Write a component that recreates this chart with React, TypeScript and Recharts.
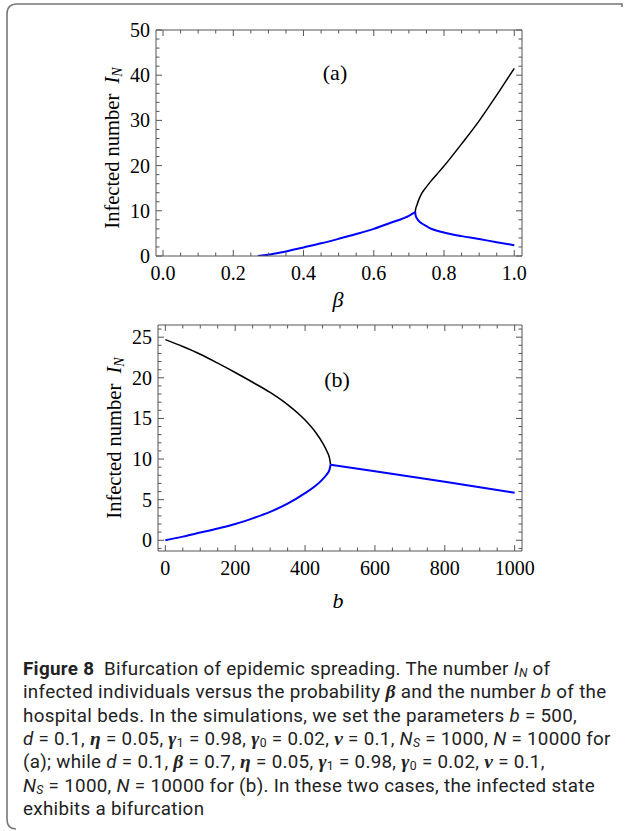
import React from "react";
import { LineChart, Line, XAxis, YAxis, Label } from "recharts";

// panel (a): infected number vs beta
const riseBetaA = [0.27, 0.3, 0.35, 0.4, 0.45, 0.5, 0.55, 0.6, 0.65, 0.7, 0.718];
const riseIA = [0, 0.3, 1.0, 1.9, 2.8, 3.8, 4.85, 6.0, 7.4, 8.9, 9.7];
const upperBetaA = [0.718, 0.719, 0.723, 0.73, 0.737, 0.75, 0.761, 0.78, 0.8, 0.85, 0.9, 0.95, 1.0];
const upperIA = [9.7, 10.3, 11.3, 12.8, 13.9, 15.3, 16.4, 18.1, 19.9, 24.8, 29.9, 35.6, 41.5];
const lowerBetaA = [0.718, 0.719, 0.723, 0.73, 0.737, 0.75, 0.761, 0.78, 0.808, 0.85, 0.9, 0.95, 1.0];
const lowerIA = [9.7, 9.0, 8.3, 7.6, 7.2, 6.6, 6.1, 5.6, 5.05, 4.4, 3.75, 3.05, 2.4];

// panel (b): infected number vs hospital beds b
const upperBedsB = [0, 50, 100, 150, 200, 250, 300, 350, 400, 430, 450, 462, 470, 473];
const upperIB = [24.7, 23.85, 22.9, 21.8, 20.65, 19.45, 18.2, 16.7, 14.8, 13.3, 12.0, 11.0, 10.1, 9.3];
const lowerBedsB = [0, 50, 100, 150, 200, 250, 300, 350, 400, 430, 450, 462, 470, 473];
const lowerIB = [0, 0.45, 0.95, 1.45, 2.0, 2.7, 3.5, 4.5, 5.8, 6.7, 7.5, 8.1, 8.7, 9.3];
const rightBedsB = [473, 600, 800, 1000];
const rightIB = [9.3, 8.5, 7.2, 5.85];

// tick labels
const xMajorA = [0, 0.2, 0.4, 0.6, 0.8, 1.0];
const yMajorA = [0, 10, 20, 30, 40, 50];
const xMajorB = [0, 200, 400, 600, 800, 1000];
const yMajorB = [0, 5, 10, 15, 20, 25];

const pts = (xs: number[], ys: number[]) => xs.map((x, i) => ({ x, y: ys[i] }));

const withMinors = (majors: number[], sub: number, lo: number, hi: number) => {
  const step = (majors[1] - majors[0]) / sub;
  const out: number[] = [];
  for (let k = Math.ceil(lo / step - 1e-9); k * step <= hi + 1e-9; k++) {
    out.push(Math.round(k * step * 1e6) / 1e6);
  }
  return out;
};

const FRAME = "#555";
const SERIF = "'Liberation Serif', 'Times New Roman', serif";

type Side = "bottom" | "left" | "top" | "right";

function frameTick(side: Side, majors: number[], fmt?: (v: number) => string) {
  return (props: any) => {
    const { x, y, payload } = props;
    const v = payload.value;
    const major = majors.some((m) => Math.abs(m - v) < 1e-6);
    const len = major ? 6 : 3.5;
    let x2 = x;
    let y2 = y;
    if (side === "bottom") y2 = y - len;
    if (side === "top") y2 = y + len;
    if (side === "left") x2 = x + len;
    if (side === "right") x2 = x - len;
    let label = null;
    if (major && fmt) {
      if (side === "bottom") {
        label = (
          <text x={x} y={y + 17} textAnchor="middle" dominantBaseline="central" fontFamily={SERIF} fontSize={20} fill="#000">
            {fmt(v)}
          </text>
        );
      } else if (side === "left") {
        label = (
          <text x={x - 6} y={y} textAnchor="end" dominantBaseline="central" fontFamily={SERIF} fontSize={20} fill="#000">
            {fmt(v)}
          </text>
        );
      }
    }
    return (
      <g>
        <line x1={x} y1={y} x2={x2} y2={y2} stroke={FRAME} strokeWidth={1} />
        {label}
      </g>
    );
  };
}

const YLabel = (props: any) => {
  const { viewBox, dy } = props;
  const cx = viewBox.x + 16;
  const cy = viewBox.y + viewBox.height / 2 + (dy || 0);
  return (
    <text
      x={cx}
      y={cy}
      transform={`rotate(-90 ${cx} ${cy})`}
      textAnchor="middle"
      dominantBaseline="central"
      fontFamily={SERIF}
      fontSize={20.5}
      fill="#000"
    >
      Infected number{"\u2002"}
      <tspan fontStyle="italic">I</tspan>
      <tspan fontStyle="italic" fontSize={14} dy={5}>
        N
      </tspan>
    </text>
  );
};

type PanelProps = {
  width: number;
  height: number;
  margin: { top: number; right: number; bottom: number; left: number };
  xDomain: [number, number];
  yDomain: [number, number];
  xTicks: number[];
  yTicks: number[];
  xMajor: number[];
  yMajor: number[];
  xFmt: (v: number) => string;
  yFmt: (v: number) => string;
  blue: { x: number; y: number }[][];
  black: { x: number; y: number }[][];
  labelDy: number;
};

function Panel(p: PanelProps) {
  return (
    <LineChart width={p.width} height={p.height} margin={p.margin}>
      <XAxis
        xAxisId="main"
        dataKey="x"
        type="number"
        domain={p.xDomain}
        allowDataOverflow
        ticks={p.xTicks}
        interval={0}
        tickSize={0}
        tickMargin={0}
        tickLine={false}
        height={40}
        axisLine={{ stroke: FRAME }}
        tick={frameTick("bottom", p.xMajor, p.xFmt)}
      />
      <XAxis
        xAxisId="top"
        orientation="top"
        dataKey="x"
        type="number"
        domain={p.xDomain}
        allowDataOverflow
        ticks={p.xTicks}
        interval={0}
        tickSize={0}
        tickMargin={0}
        tickLine={false}
        height={1}
        axisLine={{ stroke: FRAME }}
        tick={frameTick("top", p.xMajor)}
      />
      <YAxis
        yAxisId="main"
        type="number"
        domain={p.yDomain}
        allowDataOverflow
        ticks={p.yTicks}
        interval={0}
        tickSize={0}
        tickMargin={0}
        tickLine={false}
        width={60}
        axisLine={{ stroke: FRAME }}
        tick={frameTick("left", p.yMajor, p.yFmt)}
      >
        <Label content={(lp: any) => <YLabel {...lp} dy={p.labelDy} />} />
      </YAxis>
      <YAxis
        yAxisId="right"
        orientation="right"
        type="number"
        domain={p.yDomain}
        allowDataOverflow
        ticks={p.yTicks}
        interval={0}
        tickSize={0}
        tickMargin={0}
        tickLine={false}
        width={1}
        axisLine={{ stroke: FRAME }}
        tick={frameTick("right", p.yMajor)}
      />
      {/* invisible copy so the mirror axes have a series */}
      <Line
        xAxisId="top"
        yAxisId="right"
        data={p.blue[0]}
        dataKey="y"
        stroke="none"
        dot={false}
        activeDot={false}
        isAnimationActive={false}
      />
      {p.black.map((d, i) => (
        <Line
          key={"k" + i}
          xAxisId="main"
          yAxisId="main"
          data={d}
          dataKey="y"
          type="monotone"
          stroke="#000"
          strokeWidth={1.5}
          dot={false}
          activeDot={false}
          isAnimationActive={false}
        />
      ))}
      {p.blue.map((d, i) => (
        <Line
          key={"b" + i}
          xAxisId="main"
          yAxisId="main"
          data={d}
          dataKey="y"
          type="monotone"
          stroke="#0000ff"
          strokeWidth={2}
          dot={false}
          activeDot={false}
          isAnimationActive={false}
        />
      ))}
    </LineChart>
  );
}

const capStyle: React.CSSProperties = {
  position: "absolute",
  left: 23,
  height: 22,
  whiteSpace: "nowrap",
  fontFamily: "Roboto, 'Liberation Sans', sans-serif",
  fontSize: 18.8,
  letterSpacing: 0.3,
  color: "#222",
  lineHeight: "22px",
};
const greekB: React.CSSProperties = { fontFamily: SERIF, fontStyle: "italic", fontWeight: "bold", fontSize: 19.5, lineHeight: 0 };

const G = ({ children }: { children: React.ReactNode }) => <span style={greekB}>{children}</span>;
const It = ({ children }: { children: React.ReactNode }) => <i>{children}</i>;
const Sub = ({ children }: { children: React.ReactNode }) => (
  <sub style={{ fontSize: "0.65em", verticalAlign: "-0.15em", lineHeight: 0 }}>{children}</sub>
);

const captionLines: React.ReactNode[] = [
  <>
    <b>Figure 8</b>
    {"\u2002"}Bifurcation of epidemic spreading. The number{" "}
    <It>
      I<Sub>N</Sub>
    </It>{" "}
    of
  </>,
  <>
    infected individuals versus the probability <G>β</G> and the number <It>b</It> of the
  </>,
  <>
    hospital beds. In the simulations, we set the parameters <It>b</It> = 500,
  </>,
  <>
    <It>d</It> = 0.1, <G>η</G> = 0.05, <G>γ</G>
    <Sub>1</Sub> = 0.98, <G>γ</G>
    <Sub>0</Sub> = 0.02, <G>ν</G> = 0.1,{" "}
    <It>
      N<Sub>S</Sub>
    </It>{" "}
    = 1000, <It>N</It> = 10000 for
  </>,
  <>
    (a); while <It>d</It> = 0.1, <G>β</G> = 0.7, <G>η</G> = 0.05, <G>γ</G>
    <Sub>1</Sub> = 0.98, <G>γ</G>
    <Sub>0</Sub> = 0.02, <G>ν</G> = 0.1,
  </>,
  <>
    <It>
      N<Sub>S</Sub>
    </It>{" "}
    = 1000, <It>N</It> = 10000 for (b). In these two cases, the infected state
  </>,
  <>exhibits a bifurcation</>,
];

const overlayText = (left: number, top: number, text: React.ReactNode, size: number, italic = false) => (
  <div
    style={{
      position: "absolute",
      left,
      top,
      transform: "translate(-50%, -50%)",
      fontFamily: SERIF,
      fontSize: size,
      fontStyle: italic ? "italic" : "normal",
      color: "#000",
      whiteSpace: "nowrap",
    }}
  >
    {text}
  </div>
);

export default function App() {
  const fmtA = (v: number) => v.toFixed(1);
  const fmtInt = (v: number) => String(Math.round(v));
  return (
    <div style={{ position: "absolute", left: 0, top: 0, width: 625, height: 831, background: "#fff", overflow: "hidden" }}>
      <svg width={625} height={831} style={{ position: "absolute", left: 0, top: 0 }}>
        <path d="M 16 829 Q 7 829 7 819 L 7 14 Q 7 4 17 4 L 622 4 L 622 7" fill="none" stroke="#777" strokeWidth={1.6} />
      </svg>

      <div style={{ position: "absolute", left: 0, top: 0 }}>
        <Panel
          width={625}
          height={315}
          margin={{ top: 29, right: 102, bottom: 19, left: 96 }}
          xDomain={[-0.02, 1.022]}
          yDomain={[0, 50]}
          xTicks={withMinors(xMajorA, 4, -0.02, 1.022)}
          yTicks={withMinors(yMajorA, 5, 0, 50)}
          xMajor={xMajorA}
          yMajor={yMajorA}
          xFmt={fmtA}
          yFmt={fmtInt}
          blue={[pts(riseBetaA, riseIA), pts(lowerBetaA, lowerIA)]}
          black={[pts(upperBetaA, upperIA)]}
          labelDy={5}
        />
      </div>
      {overlayText(335, 73, "(a)", 22)}
      {overlayText(338, 300, "β", 22, true)}

      <div style={{ position: "absolute", left: 0, top: 310 }}>
        <Panel
          width={625}
          height={305}
          margin={{ top: 14, right: 102, bottom: 24, left: 98 }}
          xDomain={[-21, 1021]}
          yDomain={[-1.32, 26.5]}
          xTicks={withMinors(xMajorB, 4, -21, 1021)}
          yTicks={withMinors(yMajorB, 5, -1.32, 26.5)}
          xMajor={xMajorB}
          yMajor={yMajorB}
          xFmt={fmtInt}
          yFmt={fmtInt}
          blue={[pts(lowerBedsB, lowerIB), pts(rightBedsB, rightIB)]}
          black={[pts(upperBedsB, upperIB)]}
          labelDy={0}
        />
      </div>
      {overlayText(337, 380, "(b)", 22)}
      {overlayText(338, 601, "b", 22, true)}

      {captionLines.map((line, i) => (
        <div key={i} style={{ ...capStyle, top: 658 + i * 23.3 }}>
          {line}
        </div>
      ))}
    </div>
  );
}
